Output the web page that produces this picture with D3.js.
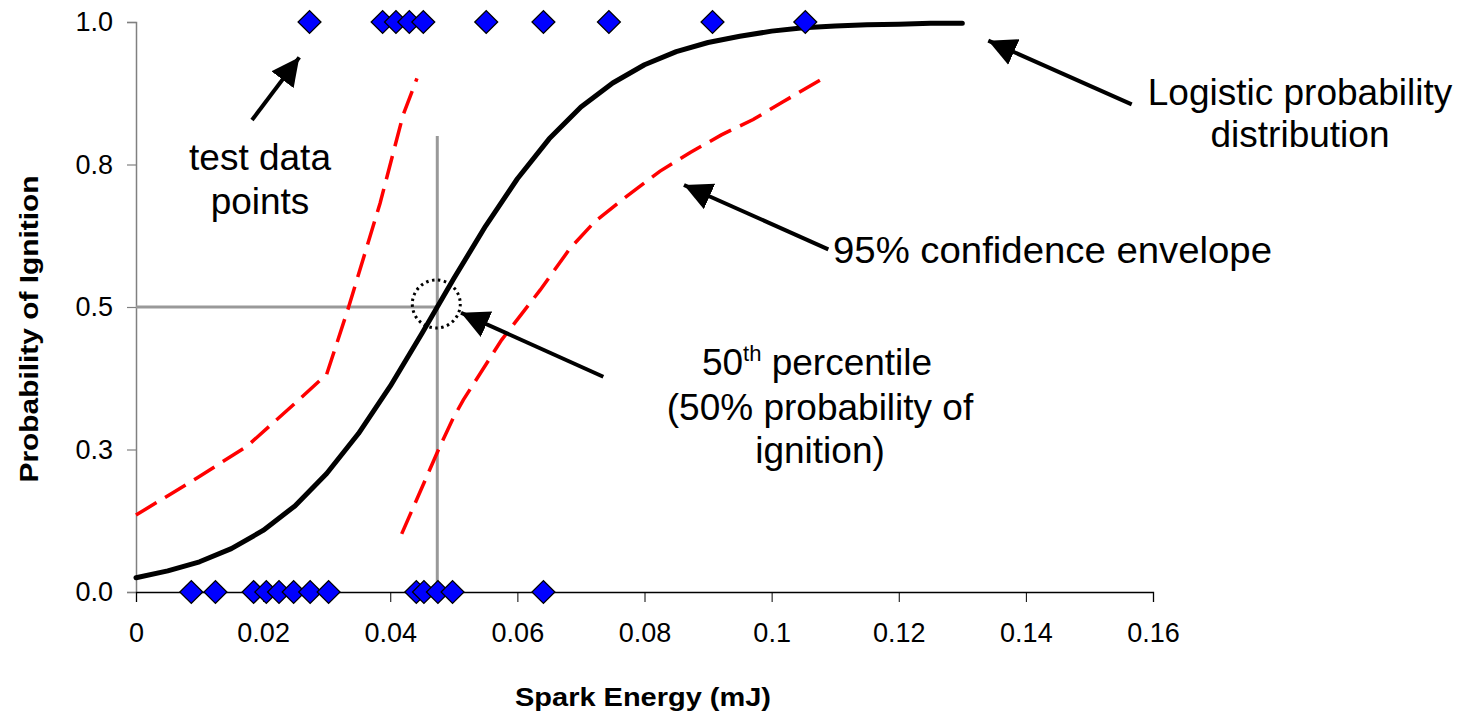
<!DOCTYPE html>
<html><head><meta charset="utf-8">
<script src="https://cdn.jsdelivr.net/npm/d3@7"></script>
<style>
html,body{margin:0;padding:0;background:#fff;}
svg text{font-family:"Liberation Sans",Arial,sans-serif;}
</style></head>
<body>
<svg id="c" width="1464" height="712"></svg>
<script>
// ---- data ----
const xTicks = [0, 0.02, 0.04, 0.06, 0.08, 0.1, 0.12, 0.14, 0.16];
const xTickLabels = ["0","0.02","0.04","0.06","0.08","0.1","0.12","0.14","0.16"];
const yTicks = [0, 0.25, 0.5, 0.75, 1.0];
const yTickLabels = ["0.0","0.3","0.5","0.8","1.0"];

// test data points: ignition (1) and no ignition (0)
const igniteX = [0.0273,0.0388,0.0409,0.0430,0.0452,0.0551,0.0641,0.0744,0.0907,0.1053];
const noIgniteX = [0.0087,0.0125,0.0185,0.0205,0.0225,0.0248,0.0274,0.0303,0.0441,0.0453,0.0475,0.0498,0.0641];

// logistic fit
const fitX = [0,0.005,0.01,0.015,0.02,0.025,0.03,0.035,0.04,0.045,0.05,0.055,0.06,0.065,0.07,0.075,0.08,0.085,0.09,0.095,0.1,0.105,0.11,0.115,0.12,0.125,0.13];
const fitP = [0.025,0.037,0.053,0.076,0.108,0.151,0.208,0.278,0.361,0.454,0.550,0.642,0.725,0.795,0.851,0.893,0.925,0.948,0.964,0.975,0.984,0.990,0.993,0.995,0.996,0.998,0.998];

// 95% confidence envelope
const upperX = [0,0.0096,0.0175,0.025,0.030,0.0334,0.0384,0.042,0.0442];
const upperP = [0.135,0.200,0.256,0.331,0.382,0.498,0.682,0.836,0.901];
const lowerX = [0.0418,0.0478,0.0499,0.0515,0.0575,0.0636,0.0683,0.0722,0.0767,0.0824,0.0872,0.0921,0.0971,0.1018,0.1079];
const lowerP = [0.102,0.255,0.305,0.337,0.442,0.530,0.603,0.650,0.690,0.738,0.771,0.802,0.829,0.860,0.900];

// 50th percentile marker
const p50X = 0.0474, p50P = 0.5, p50LineTop = 0.80;

// annotations: arrow tail/tip in data units
const arrowNames = ["test","logistic","envelope","p50"];
const arrowTail = [[0.01825,0.828],[0.15665,0.8556],[0.10892,0.6012],[0.07352,0.3777]];
const arrowTip  = [[0.02569,0.938],[0.13409,0.9672],[0.08621,0.7140],[0.05113,0.4900]];

// ---- drawing ----
const svg = d3.select("#c");
const x = d3.scaleLinear().domain([0,0.16]).range([136,1153]);
const y = d3.scaleLinear().domain([0,1]).range([592,22]);

// axes
const yAxis = svg.append("g").attr("transform","translate(136,0)")
  .call(d3.axisLeft(y).tickValues(yTicks).tickFormat((d,i)=>yTickLabels[i]).tickSizeOuter(0).tickSize(9).tickPadding(14));
yAxis.select(".domain").attr("stroke","#808080").attr("stroke-width",1.5);
yAxis.selectAll(".tick line").attr("stroke","#808080").attr("stroke-width",1.2);
yAxis.selectAll(".tick text").attr("font-size",27).attr("fill","#000").attr("font-family","Liberation Sans, Arial, sans-serif");

const xAxis = svg.append("g").attr("transform","translate(0,592)")
  .call(d3.axisBottom(x).tickValues(xTicks).tickFormat((d,i)=>xTickLabels[i]).tickSizeOuter(0).tickSize(10).tickPadding(21));
xAxis.select(".domain").attr("stroke","#000").attr("stroke-width",1.3);
xAxis.selectAll(".tick line").attr("stroke","#000").attr("stroke-width",1);
xAxis.selectAll(".tick text").attr("font-size",27).attr("fill","#000").attr("font-family","Liberation Sans, Arial, sans-serif");

// axis titles
svg.append("text").attr("x",643).attr("y",706).attr("text-anchor","middle")
  .attr("font-size",25).attr("font-weight","bold").attr("textLength",256).attr("lengthAdjust","spacingAndGlyphs")
  .text("Spark Energy (mJ)");
svg.append("text").attr("transform","translate(38,329) rotate(-90)").attr("text-anchor","middle")
  .attr("font-size",25).attr("font-weight","bold").attr("textLength",307).attr("lengthAdjust","spacingAndGlyphs")
  .text("Probability of Ignition");

// 50th percentile crosshair
svg.append("line").attr("x1",x(0)).attr("x2",x(p50X)).attr("y1",y(p50P)).attr("y2",y(p50P))
  .attr("stroke","#999").attr("stroke-width",3);
svg.append("line").attr("x1",x(p50X)).attr("x2",x(p50X)).attr("y1",y(0)).attr("y2",y(p50LineTop))
  .attr("stroke","#999").attr("stroke-width",3);

// confidence envelope
const line = d3.line().x(d=>x(d[0])).y(d=>y(d[1]));
svg.append("path").datum(upperX.map((v,i)=>[v,upperP[i]])).attr("d",line)
  .attr("fill","none").attr("stroke","#ff0000").attr("stroke-width",3.5).attr("stroke-dasharray","24,10");
svg.append("path").datum(lowerX.map((v,i)=>[v,lowerP[i]])).attr("d",line)
  .attr("fill","none").attr("stroke","#ff0000").attr("stroke-width",3.5).attr("stroke-dasharray","24,10");

// logistic fit
svg.append("path").datum(fitX.map((v,i)=>[v,fitP[i]])).attr("d",line)
  .attr("fill","none").attr("stroke","#000").attr("stroke-width",5).attr("stroke-linecap","round").attr("stroke-linejoin","round");

// data points
const diamond = d3.symbol(d3.symbolSquare, 262);
const pts = noIgniteX.map(v=>[v,0]).concat(igniteX.map(v=>[v,1]));
svg.append("g").selectAll("path").data(pts).join("path")
  .attr("d",diamond)
  .attr("transform",d=>`translate(${x(d[0])},${y(d[1])}) rotate(45)`)
  .attr("fill","#0000ff").attr("stroke","#000").attr("stroke-width",1.3);

// dotted circle
svg.append("circle").attr("cx",x(p50X)-1).attr("cy",y(p50P)-3).attr("r",24)
  .attr("fill","none").attr("stroke","#000").attr("stroke-width",3).attr("stroke-dasharray","2.5,3.5");

// arrows
const defs = svg.append("defs");
defs.append("marker").attr("id","ah").attr("viewBox","0 0 28 28").attr("refX",28).attr("refY",14)
  .attr("markerWidth",28).attr("markerHeight",28).attr("markerUnits","userSpaceOnUse").attr("orient","auto")
  .append("path").attr("d","M0,0 L28,14 L0,28 Z").attr("fill","#000");
arrowNames.forEach((n,i)=>{
  svg.append("line").attr("x1",x(arrowTail[i][0])).attr("y1",y(arrowTail[i][1]))
    .attr("x2",x(arrowTip[i][0])).attr("y2",y(arrowTip[i][1]))
    .attr("stroke","#000").attr("stroke-width",4).attr("marker-end","url(#ah)");
});

// annotation text
const fs = 37;
function multi(lines, cx, y0, lh, anchor){
  const t = svg.append("text").attr("font-size",fs).attr("text-anchor",anchor||"middle").attr("fill","#000");
  lines.forEach((l,i)=>t.append("tspan").attr("x",cx).attr("y",y0+i*lh).text(l));
  return t;
}
multi(["Logistic probability","distribution"],1300,105,42);
multi(["test data","points"],260,170,44);
svg.append("text").attr("font-size",fs).attr("x",833).attr("y",263)
  .attr("textLength",439).attr("lengthAdjust","spacingAndGlyphs").text("95% confidence envelope");
const t50 = svg.append("text").attr("font-size",fs).attr("text-anchor","middle").attr("x",817).attr("y",375);
t50.append("tspan").text("50");
t50.append("tspan").attr("font-size",22).attr("dy",-14).text("th");
t50.append("tspan").attr("dy",14).text(" percentile");
multi(["(50% probability of","ignition)"],820,420,43);
</script>
</body></html>
